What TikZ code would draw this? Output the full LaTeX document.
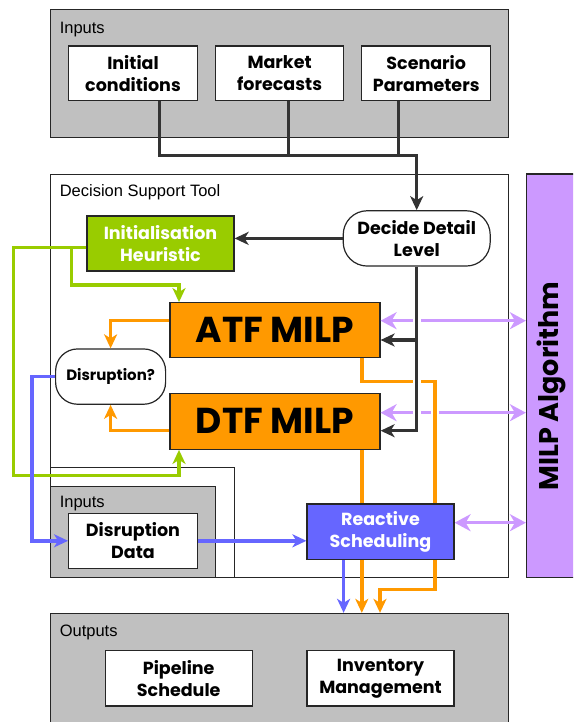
\documentclass[tikz,border=0pt]{standalone}
\usepackage{fontspec}
\setmainfont{Liberation Sans}
\newfontfamily\boxfont{Poppins}
\usetikzlibrary{arrows.meta,calc}

\definecolor{grp}{HTML}{C0C0C0}
\definecolor{org}{HTML}{FF9900}
\definecolor{grn}{HTML}{99CC00}
\definecolor{blu}{HTML}{6666FF}
\definecolor{lav}{HTML}{CC99FF}
\definecolor{drk}{HTML}{333333}

\tikzset{
  group/.style={draw=black!85, fill=grp, line width=0.9pt, rectangle, inner sep=0pt},
  frame/.style={draw=black!85, fill=white, line width=0.9pt, rectangle, inner sep=0pt},
  blk/.style={draw=black!85, line width=1.2pt, fill=white, rectangle, align=center,
    inner sep=0pt, font=\boxfont\bfseries\fontsize{17.5}{22}\selectfont},
  pill/.style={blk, rounded corners=24pt},
  big/.style={blk, fill=org, font=\boxfont\bfseries\fontsize{36}{40}\selectfont},
  tag/.style={anchor=west, inner sep=0pt, font=\fontsize{16.5}{18}\selectfont},
  con/.style={line width=3.5pt},
  tip/.style={-{Stealth[length=14pt,width=13pt,inset=4pt]}},
  tips/.style={{Stealth[length=16pt,width=17pt,inset=5pt]}-{Stealth[length=16pt,width=17pt,inset=5pt]}},
  halo/.style={preaction={draw=white,line width=8pt,arrows=-}},
  dk/.style={con, draw=drk},
  or/.style={con, draw=org},
  gr/.style={con, draw=grn},
  bl/.style={con, draw=blu},
  pu/.style={con, draw=lav},
}

\begin{document}
\begin{tikzpicture}[x=1pt, y=-1pt]
\useasboundingbox (0,0) rectangle (573,722);
\clip (0,0) rectangle (573,722);

% containers
\node[group, minimum width=458, minimum height=128] (inTop) at (279,73.3) {};
\node[tag] at (59.6,29.3) {Inputs};
\node[frame, minimum width=458, minimum height=403.4] (dst) at (279,376) {};
\node[tag] at (59.6,192.7) {Decision Support Tool};
\node[frame, minimum width=184, minimum height=110.4] (cut) at (142,522.5) {};
\node[group, minimum width=165.6, minimum height=91.7] (inLow) at (132.8,531.8) {};
\node[tag] at (59.6,504) {Inputs};
\node[group, minimum width=458, minimum height=120] (out) at (279,673.3) {};
\node[tag] at (59.6,632.7) {Outputs};
\node[draw=black!85, fill=lav, line width=1.2pt, minimum width=80, minimum height=403.7, inner sep=0pt] (milp) at (566.5,375.9) {};
\node[rotate=90, inner sep=0pt, font=\boxfont\bfseries\fontsize{27}{30}\selectfont] (milpt) at (551,386) {MILP Algorithm};

% reference points for routed connectors
\coordinate (bus) at (416.7,155.7);
\coordinate (gb) at (71.3,247.3);
\coordinate (ga) at (179,285);
\coordinate (gc) at (13.5,475.7);
\coordinate (bL) at (32.2,540.8);
\coordinate (djA) at (416.7,340);
\coordinate (o1) at (435,381.7);
\coordinate (o2) at (380,589.3);

% top input boxes
\node[blk, minimum width=128.7, minimum height=54.7] (ic) at (133,73.3) {Initial\\conditions};
\node[blk, minimum width=128, minimum height=54.7] (mf) at (279.6,73.3) {Market\\forecasts};
\node[blk, minimum width=128.7, minimum height=54.7] (sp) at (426.2,73.3) {Scenario\\Parameters};

\coordinate (ico) at ([xshift=26.7]ic.south);
\coordinate (mfo) at ([xshift=9.1]mf.south);
\coordinate (spo) at ([xshift=-27.8]sp.south);

% nodes inside the tool
\path (416.7,238.4) node[pill, minimum width=147, minimum height=55.3] (ddl) {Decide Detail\\Level};
\path (160.5,243.5) node[blk, fill=grn, text=white, minimum width=147, minimum height=55] (ih) {Initialisation\\Heuristic};
\path (275,330) node[big, minimum width=210, minimum height=54.6] (atf) {ATF MILP};
\path (275,421.3) node[big, minimum width=210, minimum height=56] (dtf) {DTF MILP};
\path (110.6,376.6) node[pill, rounded corners=22pt, minimum width=110, minimum height=55.3, font=\boxfont\bfseries\fontsize{15}{18}\selectfont] (dis) {Disruption?};
\path (380.5,531.7) node[blk, fill=blu, text=white, minimum width=147, minimum height=55.3] (rs) {Reactive\\Scheduling};
\path (133,540.8) node[blk, minimum width=128.7, minimum height=55] (dd) {Disruption\\Data};
\path (178.7,678.3) node[blk, minimum width=147, minimum height=55.3] (ps) {Pipeline\\Schedule};
\path (380.5,678.3) node[blk, minimum width=147, minimum height=55.3] (im) {Inventory\\Management};

\coordinate (pa) at ([yshift=9.3]atf.east);
\coordinate (pd) at ([yshift=8.6]dtf.east);
\coordinate (pr) at ([yshift=9]rs.east);
\coordinate (atfo) at ([xshift=86.8]atf.south);
\coordinate (dtfo) at ([xshift=86.8]dtf.south);
\coordinate (rso) at ([xshift=-36.9]rs.south);
\coordinate (dtfin) at ([yshift=-9.4]dtf.east);

% connectors
\draw[dk] (mfo) -- (mfo |- bus);
\draw[dk] (spo) -- (spo |- bus);
\draw[dk, tip] (ico) |- (bus) -- (ddl.north);

\draw[pu, tips] (pa) -- (pa -| milp.west);
\draw[pu, tips] (pd) -- (pd -| milp.west);
\draw[pu, tips] (pr) -- (pr -| milp.west);

\draw[gr, tip] ([yshift=-3.8]ih.west) -| (gc) -| (dtf.south -| ga);
\draw[gr, tip] (gb) |- (ga) -- (ga |- atf.north);

\draw[bl, tip] (dis.west) -| (bL) -- (dd.west);
\draw[bl, tip] (dd.east) -- (dd.east -| rs.west);
\draw[bl, tip] (rso) -- (rso |- out.north);

\draw[or, tip] ([yshift=9.3]atf.west) -| (dis.north);
\draw[or, tip] ([yshift=-9.4]dtf.west) -| (dis.south);
\draw[or, halo] (o1) -- (o1 |- rs.north);
\draw[or, tip] (atfo) |- (o1) |- (o2) -- (o2 |- out.north);
\draw[or, tip] (dtfo) -- (dtfo |- out.north);

\draw[dk, tip] (ddl.west) -- (ddl.west -| ih.east);
\draw[dk, tip, halo] (ddl.south) |- (dtfin);
\draw[dk, tip] (djA) -- (djA -| atf.east);

% boxes that the connectors pass behind
\node[blk, fill=blu, text=white, minimum width=147, minimum height=55.3] at (rs) {Reactive\\Scheduling};
\end{tikzpicture}
\end{document}
